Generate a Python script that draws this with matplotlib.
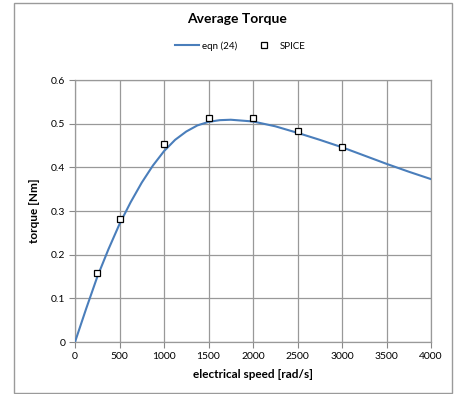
import matplotlib
matplotlib.use("Agg")
import matplotlib.pyplot as plt
from matplotlib.patches import Rectangle
from matplotlib.lines import Line2D

# eqn (24) curve
speed = [0, 125, 250, 375, 500, 625, 750, 875, 1000, 1125, 1250, 1375, 1500,
         1625, 1750, 2000, 2250, 2500, 2750, 3000, 3250, 3500, 3750, 4000]
torque = [0, 0.076, 0.149, 0.212, 0.270, 0.320, 0.365, 0.404, 0.437, 0.463,
          0.482, 0.496, 0.504, 0.508, 0.509, 0.505, 0.494, 0.479, 0.463,
          0.446, 0.427, 0.408, 0.390, 0.373]

# SPICE points
spice_speed = [250, 500, 1000, 1500, 2000, 2500, 3000]
spice_torque = [0.157, 0.282, 0.453, 0.514, 0.514, 0.483, 0.447]

xticks = [0, 500, 1000, 1500, 2000, 2500, 3000, 3500, 4000]
yticks = [0, 0.1, 0.2, 0.3, 0.4, 0.5, 0.6]
ylabels = ["0", "0.1", "0.2", "0.3", "0.4", "0.5", "0.6"]

plt.rcParams['font.family'] = ['Lato', 'DejaVu Sans']

fig = plt.figure(figsize=(4.54, 3.94), dpi=100)
ax = fig.add_axes([75 / 454, 1 - 342 / 394, 356 / 454, 262 / 394])

# outer chart border
fig.patches.append(Rectangle((14 / 454, 1 / 394), 438 / 454, 390 / 394,
                             transform=fig.transFigure, fill=False,
                             edgecolor='#9a9a9a', linewidth=1.0))

ax.plot(speed, torque, color='#4a7ebb', linewidth=1.5, label='eqn (24)',
        zorder=3)
ax.plot(spice_speed, spice_torque, linestyle='none', marker='s',
        markersize=5, markerfacecolor='white', markeredgecolor='black',
        markeredgewidth=0.9, label='SPICE', zorder=4)

ax.set_xlim(0, 4000)
ax.set_ylim(0, 0.6)
ax.set_xticks(xticks)
ax.set_xticklabels([str(v) for v in xticks])
ax.set_yticks(yticks)
ax.set_yticklabels(ylabels)
ax.tick_params(labelsize=7.5, length=4, width=0.8, color='#888888',
               direction='out', pad=3)
ax.grid(True, color='#999999', linewidth=0.9)
ax.set_axisbelow(True)
for s in ax.spines.values():
    s.set_color('#999999')
    s.set_linewidth(0.9)

ax.set_xlabel('electrical speed [rad/s]', fontsize=8.5, fontweight='bold',
              labelpad=6)
ax.set_ylabel('torque [Nm]', fontsize=8.5, fontweight='bold', labelpad=8)

fig.text(237 / 454, 1 - 19 / 394, 'Average Torque', fontsize=10,
         fontweight='bold', ha='center', va='center')

handles = [Line2D([], [], color='#4a7ebb', linewidth=1.5),
           Line2D([], [], linestyle='none', marker='s', markersize=4,
                  markerfacecolor='white', markeredgecolor='black',
                  markeredgewidth=0.9)]
fig.legend(handles, ['eqn (24)', 'SPICE'], loc='center',
           bbox_to_anchor=(240 / 454, 1 - 46 / 394), ncol=2, frameon=False,
           fontsize=7, handlelength=2.5, handletextpad=0.3,
           columnspacing=1.5)

fig.savefig('out.png', dpi=100)
